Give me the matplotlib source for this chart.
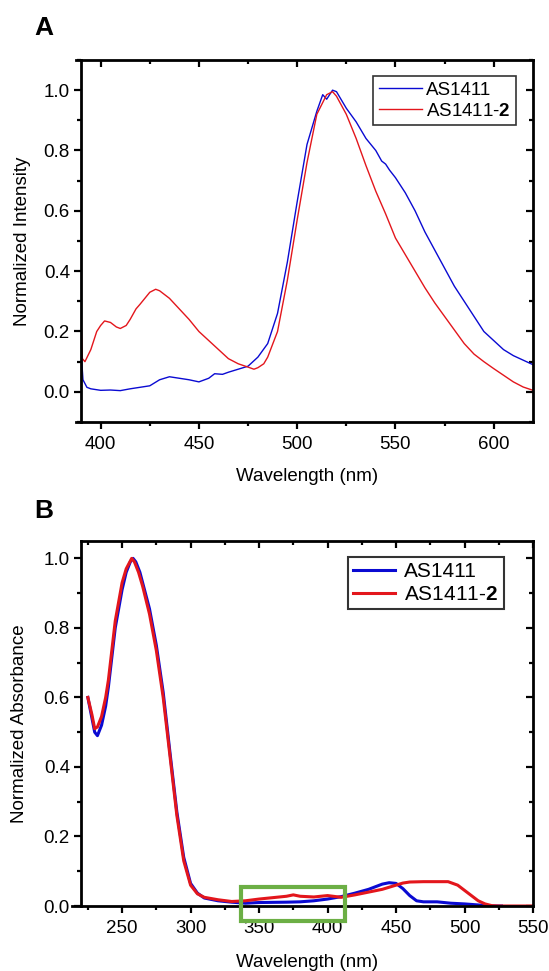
import matplotlib
matplotlib.use("Agg")
import matplotlib.pyplot as plt
from matplotlib.patches import Rectangle
from matplotlib.ticker import MultipleLocator, FormatStrFormatter

plt.rcParams['font.family'] = ['Liberation Sans', 'DejaVu Sans']
plt.rcParams['mathtext.fontset'] = 'custom'
plt.rcParams['mathtext.bf'] = 'Liberation Sans:bold'
plt.rcParams['mathtext.rm'] = 'Liberation Sans'

# ---------------- Panel A: emission ----------------
emA_wl_blue = [390, 391, 393, 395, 400, 405, 410, 415, 420, 425, 430, 435, 440, 445, 450,
               455, 458, 462, 465, 470, 475, 480, 485, 490, 495, 500, 505, 510, 513, 515,
               518, 520, 525, 530, 535, 540, 543, 545, 547, 550, 555, 560, 565, 570, 575,
               580, 585, 590, 595, 600, 605, 610, 615, 620]
emA_blue = [0.14, 0.04, 0.015, 0.01, 0.005, 0.006, 0.004, 0.01, 0.015, 0.02, 0.04, 0.05, 0.045,
            0.04, 0.033, 0.045, 0.06, 0.058, 0.065, 0.075, 0.085, 0.115, 0.16, 0.26, 0.43, 0.63,
            0.82, 0.93, 0.985, 0.97, 1.0, 0.995, 0.94, 0.895, 0.84, 0.80, 0.765, 0.755, 0.735,
            0.71, 0.66, 0.60, 0.53, 0.47, 0.41, 0.35, 0.30, 0.25, 0.20, 0.17, 0.14, 0.12, 0.105,
            0.09]

emA_wl_red = [390, 390.7, 392, 395, 398, 400, 402, 405, 408, 410, 413, 415, 418, 420, 425, 428,
              430, 435, 440, 445, 450, 455, 460, 465, 470, 475, 478, 480, 483, 485, 490, 495,
              500, 505, 510, 515, 518, 520, 525, 530, 535, 540, 545, 550, 555, 560, 565, 570,
              575, 580, 585, 590, 595, 600, 605, 610, 615, 620]
emA_red = [0.25, 0.11, 0.10, 0.14, 0.20, 0.22, 0.235, 0.23, 0.215, 0.21, 0.22, 0.24, 0.275, 0.29,
           0.33, 0.34, 0.335, 0.31, 0.275, 0.24, 0.20, 0.17, 0.14, 0.11, 0.093, 0.082, 0.075, 0.08,
           0.093, 0.115, 0.20, 0.37, 0.57, 0.76, 0.92, 0.985, 0.995, 0.98, 0.92, 0.84, 0.75,
           0.665, 0.59, 0.51, 0.455, 0.40, 0.345, 0.295, 0.25, 0.205, 0.16, 0.125, 0.10, 0.077,
           0.055, 0.033, 0.016, 0.005]

# ---------------- Panel B: absorbance ----------------
abs_wl_blue = [225, 228, 230, 232, 235, 238, 240, 245, 250, 253, 256, 258, 260, 263, 265, 270,
               275, 280, 285, 290, 295, 300, 305, 310, 320, 330, 340, 350, 370, 380, 390, 400,
               410, 420, 430, 440, 445, 450, 455, 460, 465, 470, 480, 490, 500, 510, 520, 527]
abs_blue = [0.60, 0.54, 0.50, 0.49, 0.52, 0.575, 0.63, 0.80, 0.91, 0.96, 0.99, 1.0, 0.99, 0.96,
            0.93, 0.855, 0.75, 0.615, 0.44, 0.27, 0.14, 0.065, 0.037, 0.023, 0.015, 0.011,
            0.008, 0.01, 0.011, 0.012, 0.015, 0.02, 0.027, 0.037, 0.048, 0.063, 0.067, 0.065,
            0.05, 0.03, 0.015, 0.012, 0.012, 0.008, 0.006, 0.003, 0.0, 0.0]

abs_wl_red = [225, 228, 230, 232, 235, 238, 240, 245, 250, 253, 255, 257, 259, 262, 265, 270,
              275, 280, 285, 290, 295, 300, 305, 310, 320, 330, 340, 350, 360, 370, 375, 380,
              390, 400, 410, 420, 430, 440, 450, 455, 460, 470, 480, 488, 495, 500, 505, 510,
              515, 520, 525, 550]
abs_red = [0.60, 0.55, 0.51, 0.515, 0.545, 0.60, 0.65, 0.82, 0.93, 0.97, 0.985, 1.0, 0.99, 0.96,
           0.92, 0.84, 0.735, 0.60, 0.43, 0.26, 0.13, 0.06, 0.035, 0.025, 0.018, 0.013, 0.015,
           0.02, 0.024, 0.028, 0.032, 0.028, 0.026, 0.03, 0.025, 0.032, 0.04, 0.048, 0.06,
           0.066, 0.069, 0.07, 0.07, 0.07, 0.06, 0.045, 0.03, 0.015, 0.006, 0.001, 0.0, 0.0]

series_labels = ["AS1411", "AS1411-$\\mathbf{2}$"]
BLUE = '#0a0ad2'
RED = '#e3161c'
GREEN = '#6caf45'

fig = plt.figure(figsize=(5.49, 9.71), dpi=100)
axA = fig.add_axes([81/549, 1-422/971, 452/549, 362/971])
axB = fig.add_axes([81/549, 1-906/971, 452/549, 365/971])

FS = 13.5


def style(ax, xmaj, xmin, xlim, ext_top, ext_bottom):
    for s in ax.spines.values():
        s.set_linewidth(2.0)
    ax.xaxis.set_major_locator(MultipleLocator(xmaj))
    ax.xaxis.set_minor_locator(MultipleLocator(xmin))
    ax.yaxis.set_major_locator(MultipleLocator(0.2))
    ax.yaxis.set_minor_locator(MultipleLocator(0.1))
    ax.yaxis.set_major_formatter(FormatStrFormatter('%.1f'))
    ax.tick_params(which='both', direction='out', width=1.6, labelsize=FS,
                   top=False, right=False)
    ax.tick_params(axis='x', pad=5)
    ax.tick_params(axis='y', pad=3)
    ax.tick_params(which='major', length=5)
    ax.tick_params(which='minor', length=3)
    ax.set_xlim(*xlim)
    # Origin-like: axis lines extend slightly left of the left spine
    pxw = ax.get_position().width * fig.get_size_inches()[0] * fig.dpi
    per_px = (xlim[1] - xlim[0]) / pxw
    if ext_top:
        ax.spines['top'].set_bounds(xlim[0] - ext_top * per_px, xlim[1])
    if ext_bottom:
        ax.spines['bottom'].set_bounds(xlim[0] - ext_bottom * per_px, xlim[1])
    # inward ticks on top and right
    sx = ax.secondary_xaxis('top')
    sx.xaxis.set_major_locator(MultipleLocator(xmaj))
    sx.xaxis.set_minor_locator(MultipleLocator(xmin))
    sx.tick_params(which='both', direction='in', width=1.6, labeltop=False)
    sx.tick_params(which='major', length=5)
    sx.tick_params(which='minor', length=3)
    sx.spines['top'].set_visible(False)
    sy = ax.secondary_yaxis('right')
    sy.yaxis.set_major_locator(MultipleLocator(0.2))
    sy.yaxis.set_minor_locator(MultipleLocator(0.1))
    sy.tick_params(which='both', direction='in', width=1.6, labelright=False)
    sy.tick_params(which='major', length=5)
    sy.tick_params(which='minor', length=3)
    sy.spines['right'].set_visible(False)
    return sx, sy


# Panel A
axA.plot(emA_wl_blue, emA_blue, color=BLUE, lw=1.0, label=series_labels[0])
axA.plot(emA_wl_red, emA_red, color=RED, lw=1.0, label=series_labels[1])
axA.set_ylim(-0.1, 1.1)
style(axA, 50, 25, (390, 620), 5, 5)
axA.set_xlabel("Wavelength (nm)", fontsize=FS, labelpad=11)
axA.set_ylabel("Normalized Intensity", fontsize=FS, labelpad=9)
legA = axA.legend(loc='upper right', bbox_to_anchor=(0.962, 0.956), borderaxespad=0,
                  fontsize=FS, frameon=True, fancybox=False, edgecolor='black',
                  handlelength=2.3, handletextpad=0.2, borderpad=0.3, labelspacing=0.2)
legA.get_frame().set_linewidth(1.2)

# Panel B
axB.plot(abs_wl_blue, abs_blue, color=BLUE, lw=2.2, label=series_labels[0])
axB.plot(abs_wl_red, abs_red, color=RED, lw=2.2, label=series_labels[1])
axB.set_ylim(0, 1.05)
style(axB, 50, 25, (220, 550), 0, 9)
axB.set_xlabel("Wavelength (nm)", fontsize=FS, labelpad=12)
axB.set_ylabel("Normalized Absorbance", fontsize=FS, labelpad=11)
legB = axB.legend(loc='upper right', bbox_to_anchor=(0.935, 0.957), borderaxespad=0,
                  fontsize=15, frameon=True, fancybox=False, edgecolor='black',
                  handlelength=2.0, handletextpad=0.45, borderpad=0.25, labelspacing=0.2)
legB.get_frame().set_linewidth(1.5)

axB.add_patch(Rectangle((336.5, -0.043), 76.5, 0.098, fill=False, edgecolor=GREEN,
                        linewidth=3.0, clip_on=False, zorder=5))

fig.text(44/549, 1-28/971, "A", fontsize=19, fontweight='bold', ha='center', va='center')
fig.text(44/549, 1-511/971, "B", fontsize=19, fontweight='bold', ha='center', va='center')

fig.savefig("out.png", dpi=100)
